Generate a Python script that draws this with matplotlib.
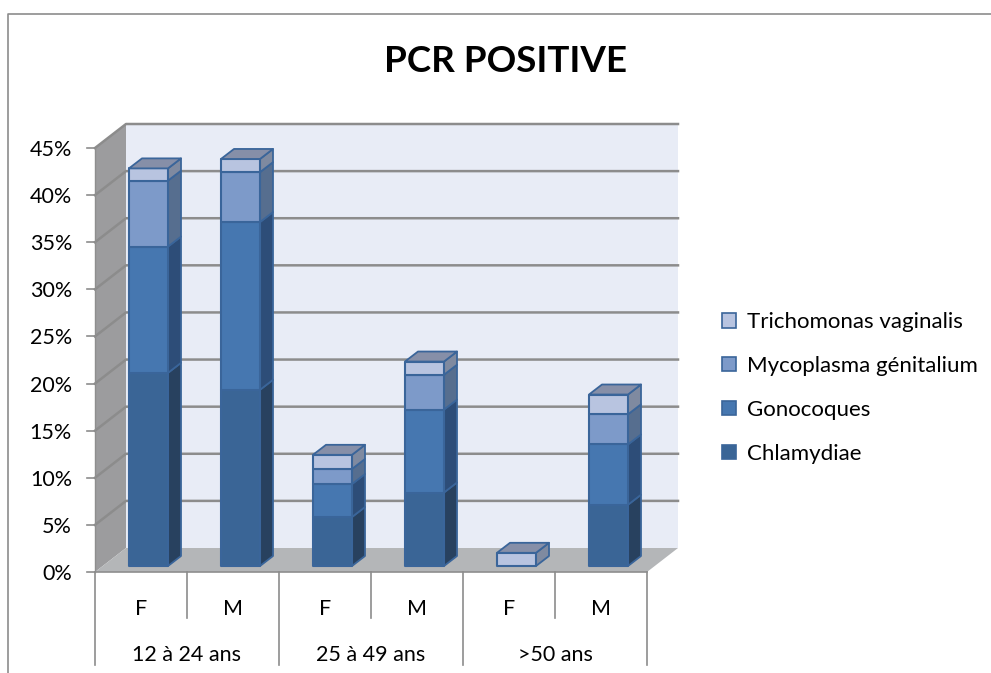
import matplotlib
matplotlib.use("Agg")
import matplotlib.pyplot as plt
from matplotlib.patches import Patch, Polygon

plt.rcParams['font.family'] = ['Lato', 'DejaVu Sans']

sexes = ["F", "M", "F", "M", "F", "M"]
groups = ["12 à 24 ans", "25 à 49 ans", ">50 ans"]
series_names = ["Chlamydiae", "Gonocoques", "Mycoplasma génitalium", "Trichomonas vaginalis"]
chlamydiae = [20.5, 18.7, 5.2, 7.8, 0, 6.5]
gonocoques = [13.4, 17.8, 3.5, 8.8, 0, 6.4]
mycoplasma = [7.0, 5.3, 1.6, 3.7, 0, 3.2]
trichomonas = [1.3, 1.4, 1.5, 1.4, 1.4, 2.1]
y_ticks = [0, 5, 10, 15, 20, 25, 30, 35, 40, 45]

W, H = 991, 673
FRONT = ["#3A6596", "#4677B0", "#7D9AC9", "#B8C4E0"]
SIDE = ["#28415F", "#2D4D78", "#566E8F", "#7F8AA0"]
TOP = "#868FA8"
EDGE = "#3A659A"
GRID = "#8C8C8C"

fig = plt.figure(figsize=(W / 100, H / 100), dpi=100)
ax = fig.add_axes([95 / W, 1 - 572 / H, 552 / W, 424 / H])
ax.set_xlim(0, 6)
ax.set_ylim(0, 45)
ax.axis("off")

# pixel -> data
px = 6 / 552
py = 45 / 424
wall_dx, wall_dy = 31 * px, 24 * py
bar_dx, bar_dy = 13 * px, 10 * py
bar_w = 39 * px
bar_off = 34 * px
base = 6 * py


def poly(pts, fc, ec="none", lw=0, z=1):
    ax.add_patch(Polygon(pts, closed=True, facecolor=fc, edgecolor=ec, linewidth=lw,
                         zorder=z, clip_on=False, joinstyle="round"))


# murs et sol
poly([(wall_dx, wall_dy), (6 + wall_dx, wall_dy), (6 + wall_dx, 45 + wall_dy), (wall_dx, 45 + wall_dy)], "#E8ECF6")
poly([(0, 0), (wall_dx, wall_dy), (wall_dx, 45 + wall_dy), (0, 45)], "#9C9C9E")
poly([(0, 0), (6, 0), (6 + wall_dx, wall_dy), (wall_dx, wall_dy)], "#B4B6B8")

for v in y_ticks:
    if v > 0:
        ax.plot([0, wall_dx, 6 + wall_dx], [v, v + wall_dy, v + wall_dy], color=GRID, lw=1.8, zorder=2, clip_on=False)
    ax.plot([-8 * px, 0], [v, v], color=GRID, lw=1.2, zorder=2, clip_on=False)
    ax.text(-23 * px, v - 2 * py, f"{v}%", ha="right", va="center", fontsize=15.5, color="black")

ax.plot([0, 0], [0, 45], color="#8E8E8E", lw=1, zorder=2, clip_on=False)
ax.plot([0, 6], [0, 0], color="#8E8E8E", lw=1.2, zorder=2, clip_on=False)

# barres empilees
stacks = [chlamydiae, gonocoques, mycoplasma, trichomonas]
for i in range(len(sexes)):
    x0 = i + bar_off
    x1 = x0 + bar_w
    bottom = base
    for s, values in enumerate(stacks):
        v = values[i]
        if v == 0:
            continue
        top = bottom + v
        poly([(x1, bottom), (x1 + bar_dx, bottom + bar_dy), (x1 + bar_dx, top + bar_dy), (x1, top)],
             SIDE[s], EDGE, 1.3, 3)
        poly([(x0, bottom), (x1, bottom), (x1, top), (x0, top)], FRONT[s], EDGE, 1.5, 4)
        bottom = top
    poly([(x0, bottom), (x1, bottom), (x1 + bar_dx, bottom + bar_dy), (x0 + bar_dx, bottom + bar_dy)],
         TOP, EDGE, 1.3, 4)

# axe categories a deux niveaux
for i in range(7):
    low = -93 * py if i % 2 == 0 else -46 * py
    ax.plot([i, i], [0, low], color=GRID, lw=1.2, clip_on=False)
for i, s in enumerate(sexes):
    ax.text(i + 0.5, -37 * py, s, ha="center", va="center", fontsize=15.5)
for i, g in enumerate(groups):
    ax.text(2 * i + 1, -83 * py, g, ha="center", va="center", fontsize=15.5)

# cadre du graphique
fig.add_artist(plt.Line2D([8 / W, 8 / W, 1], [0, 1 - 14 / H, 1 - 14 / H], color="#8C8C8C", lw=1.2))

fig.text(505 / W, 1 - 61 / H, "PCR POSITIVE", ha="center", va="center", fontsize=26.5, fontweight="bold")

handles = [Patch(facecolor=FRONT[s], edgecolor=EDGE, linewidth=1.2, label=series_names[s]) for s in range(3, -1, -1)]
fig.legend(handles=handles, loc="center left", bbox_to_anchor=(702 / W, 1 - 388 / H), frameon=False,
           fontsize=16, handlelength=0.62, handleheight=0.62, handletextpad=0.5, labelspacing=1.07)

fig.savefig("out.png", dpi=100)
